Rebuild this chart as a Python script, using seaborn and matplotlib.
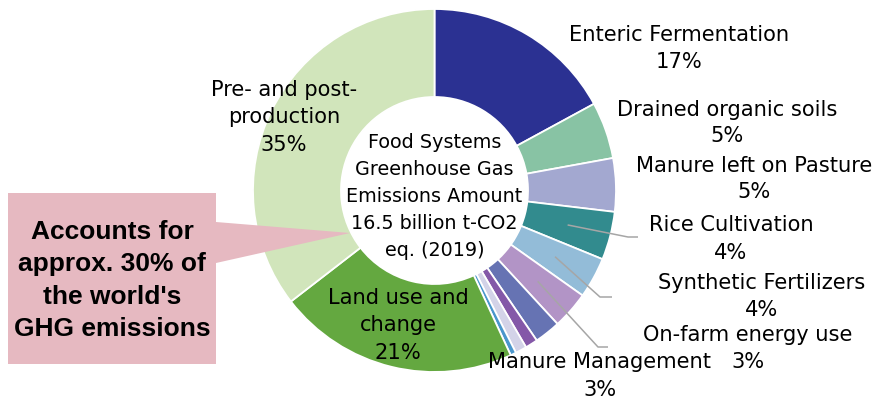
import matplotlib
matplotlib.use("Agg")
import matplotlib.pyplot as plt
import seaborn as sns
import numpy as np
from matplotlib.patches import Polygon

# ---------------- data ----------------
categories = ["Enteric Fermentation", "Drained organic soils", "Manure left on Pasture",
              "Rice Cultivation", "Synthetic Fertilizers", "On-farm energy use",
              "Manure Management", "Other (a)", "Other (b)", "Other (c)",
              "Land use and change", "Pre- and post-production"]
shares = [16.9, 5.0, 4.7, 4.25, 3.6, 3.3, 2.3, 1.1, 1.0, 0.5, 21.2, 35.1]
pct_labels = ["17%", "5%", "5%", "4%", "4%", "3%", "3%", "", "", "", "21%", "35%"]
display_names = ["Enteric Fermentation", "Drained organic soils", "Manure left on Pasture",
                 "Rice Cultivation", "Synthetic Fertilizers", "On-farm energy use",
                 "Manure Management", "", "", "",
                 "Land use and\nchange", "Pre- and post-\nproduction"]
colors = ["#2b3192", "#88c3a4", "#a3a8d0", "#328b8e", "#93bcd8", "#b294c6",
          "#6673b3", "#8458a8", "#d3d3e8", "#4a96cc", "#64a840", "#d1e5bb"]
center_text = "Food Systems\nGreenhouse Gas\nEmissions Amount\n16.5 billion t-CO2\neq. (2019)"
callout_text = "Accounts for\napprox. 30% of\nthe world's\nGHG emissions"

# ---------------- style ----------------
sns.set_theme(style="white")
plt.rcParams['font.family'] = ['DejaVu Sans']

W, H = 878, 400
fig = plt.figure(figsize=(W / 100, H / 100), dpi=100)
ax = fig.add_axes([0, 0, 1, 1])

cx, cy = 434.5, H - 190.5
R, r_in = 181.5, 93.5

wedges, _ = ax.pie(shares, colors=colors, startangle=90, counterclock=False,
                   center=(cx, cy), radius=R, frame=True,
                   wedgeprops=dict(width=R - r_in, edgecolor="white", linewidth=1.3))

ax.set_xlim(0, W)
ax.set_ylim(0, H)
ax.set_aspect("equal")
ax.axis("off")

# label layout: (x centre, y of first line centre, y of pct line centre), pixels from top
label_pos = {
    "Enteric Fermentation": (679, 35, 62),
    "Drained organic soils": (727, 110, 136),
    "Manure left on Pasture": (754, 166, 192),
    "Rice Cultivation": (731, 225, 253),
    "Synthetic Fertilizers": (762, 283, 310),
    "On-farm energy use": (748, 335, 362),
    "Manure Management": (600, 362, 390),
    "Land use and change": (398, 298, 353),
    "Pre- and post-production": (284, 90, 145),
}
lab_fs = 15.1
line_sp = 1.46
for cat, name, pct in zip(categories, display_names, pct_labels):
    if cat not in label_pos:
        continue
    x, y1, y2 = label_pos[cat]
    n_lines = name.count("\n") + 1
    step = (y2 - y1) / n_lines
    y_block = y1 + (n_lines - 1) * step / 2
    ax.text(x, H - y_block, name, ha="center", va="center", multialignment="center",
            fontsize=lab_fs, linespacing=line_sp, color="black", zorder=5)
    ax.text(x, H - y2, pct, ha="center", va="center", fontsize=lab_fs,
            color="black", zorder=5)

# leader lines
elbows = {
    "Rice Cultivation": [(628, 237), (638, 237)],
    "Synthetic Fertilizers": [(600, 297), (612, 297)],
    "On-farm energy use": [(598, 347), (608, 347)],
}
for cat, pts in elbows.items():
    w = wedges[categories.index(cat)]
    ang = np.deg2rad((w.theta1 + w.theta2) / 2)
    rm = (R + r_in) / 2
    xs = [cx + rm * np.cos(ang)] + [p[0] for p in pts]
    ys = [cy + rm * np.sin(ang)] + [H - p[1] for p in pts]
    ax.plot(xs, ys, color="#a6a6a6", lw=1.1, zorder=4, solid_capstyle="butt")

# centre text
ax.text(cx, H - 196.5, center_text, ha="center", va="center", multialignment="center",
        fontsize=13.75, linespacing=1.52, color="black", zorder=5)

# callout
poly = [(8, 193), (216, 193), (216, 222), (350, 233), (216, 263), (216, 364), (8, 364)]
ax.add_patch(Polygon([(x, H - y) for x, y in poly], closed=True,
                     facecolor="#e6b9c1", edgecolor="none", zorder=3))
ax.text(112, H - 280.5, callout_text, ha="center", va="center", multialignment="center",
        fontsize=19, fontweight="bold", family=["Liberation Sans", "DejaVu Sans"],
        linespacing=1.45, color="black", zorder=5)

fig.savefig("out.png", dpi=100)
